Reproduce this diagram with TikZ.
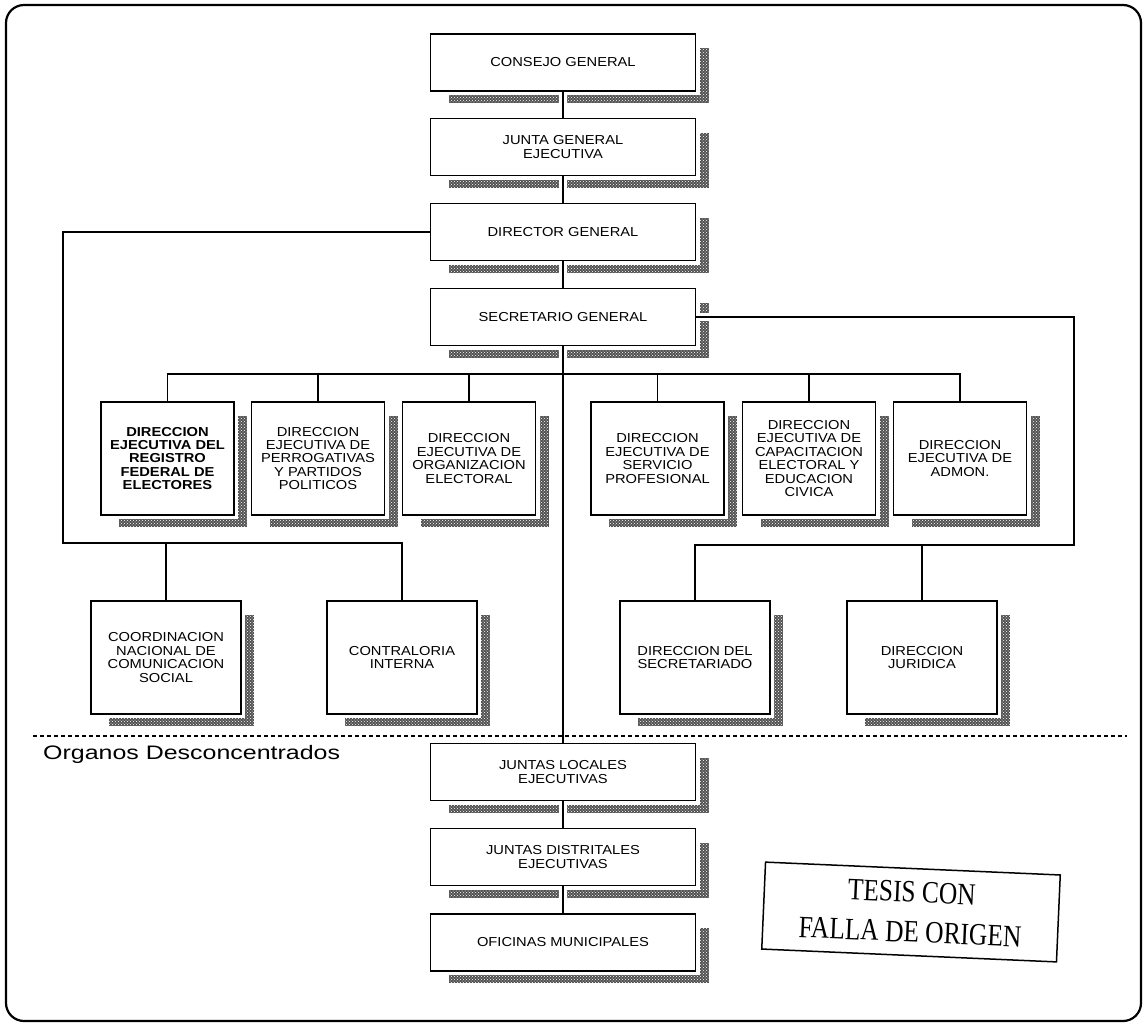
\documentclass[tikz,border=0pt]{standalone}
\usepackage{fontspec}
\setmainfont{Liberation Sans}
\newfontfamily\chartfont[FakeStretch=1.13]{Liberation Sans}
\newfontfamily\labelfont[FakeStretch=1.28]{Liberation Sans}
\newfontfamily\stampfont[FakeStretch=0.82]{Liberation Serif}
\usetikzlibrary{calc,patterns}

\tikzset{
  unit/.style={draw, line width=1.7pt, fill=white, align=center,
    inner sep=0pt, outer sep=0pt,
    font=\chartfont\fontsize{13}{13.4}\selectfont},
  wide/.style={unit, minimum width=265pt, minimum height=57pt},
  tall/.style={unit, minimum width=133pt, minimum height=113pt},
  lower/.style={unit, minimum width=150pt, minimum height=113pt},
  wire/.style={line width=1.6pt},
  shade/.style={fill=black!68, postaction={pattern=crosshatch dots, pattern color=white}},
  cut/.style={fill=white},
}

% grey drop shadow to the right of and below a box
\newcommand\boxshadow[1]{%
  \fill[shade] ($(#1.north east)+(4,14)$) rectangle ($(#1.south east)+(13,12)$);
  \fill[shade] ($(#1.south west)+(18,4)$) rectangle ($(#1.south east)+(13,12)$);}
% white notch in a bottom shadow where the connector passes
\newcommand\shadowgap[1]{%
  \fill[cut] ($(#1.south)+(-4,3)$) rectangle ($(#1.south)+(4,13)$);}

\begin{document}
\begin{tikzpicture}[x=1pt, y=-1pt]
\useasboundingbox (0,0) rectangle (1147,1026);

% outer frame
\draw[line width=2.2pt, rounded corners=18pt] (6,5) rectangle (1141,1021);

% central column
\node[wide] (cg) at (563,62.5) {CONSEJO GENERAL};
\node[wide] (jg) at (563,147) {JUNTA GENERAL\\EJECUTIVA};
\node[wide] (dg) at (563,232) {DIRECTOR GENERAL};
\node[wide] (sg) at (563,317) {SECRETARIO GENERAL};

% executive directions
\node[tall, line width=2.6pt, font=\chartfont\bfseries\fontsize{13}{13.4}\selectfont] (d1) at (167.5,458.5)
  {DIRECCION\\EJECUTIVA DEL\\REGISTRO\\FEDERAL DE\\ELECTORES};
\node[tall] (d2) at (318,458.5) {DIRECCION\\EJECUTIVA DE\\PERROGATIVAS\\Y PARTIDOS\\POLITICOS};
\node[tall] (d3) at (469,458.5) {DIRECCION\\EJECUTIVA DE\\ORGANIZACION\\ELECTORAL};
\node[tall] (d4) at (657.5,458.5) {DIRECCION\\EJECUTIVA DE\\SERVICIO\\PROFESIONAL};
\node[tall] (d5) at (809,458.5) {DIRECCION\\EJECUTIVA DE\\CAPACITACION\\ELECTORAL Y\\EDUCACION\\CIVICA};
\node[tall] (d6) at (960,458.5) {DIRECCION\\EJECUTIVA DE\\ADMON.};

% support units
\node[lower] (cn) at (166,657.5) {COORDINACION\\NACIONAL DE\\COMUNICACION\\SOCIAL};
\node[lower] (ci) at (402,657.5) {CONTRALORIA\\INTERNA};
\node[lower] (ds) at (695,657.5) {DIRECCION DEL\\SECRETARIADO};
\node[lower] (dj) at (922,657.5) {DIRECCION\\JURIDICA};

% decentralised bodies
\node[wide] (jl) at (563,772) {JUNTAS LOCALES\\EJECUTIVAS};
\node[wide] (jd) at (563,857) {JUNTAS DISTRITALES\\EJECUTIVAS};
\node[wide] (om) at (563,942.5) {OFICINAS MUNICIPALES};

% shadows
\foreach \n in {cg,jg,dg,sg,d1,d2,d3,d4,d5,d6,cn,ci,ds,dj,jl,jd,om} {\boxshadow{\n}}
\foreach \n in {cg,jg,dg,sg,jl,jd} {\shadowgap{\n}}
\fill[cut] ($(sg.east)+(3,-4)$) rectangle ($(sg.east)+(14,4)$);

% reference points of the connector runs
\coordinate (bus) at (0,374);
\coordinate (lcorner) at (63,232);
\coordinate (lbus) at (63,543);
\coordinate (rcorner) at (1074,545);

% vertical chain
\draw[wire] (cg.south) -- (jg.north);
\draw[wire] (jg.south) -- (dg.north);
\draw[wire] (dg.south) -- (sg.north);
\draw[wire] (sg.south) -- (jl.north);
\draw[wire] (jl.south) -- (jd.north);
\draw[wire] (jd.south) -- (om.north);

% bus to the executive directions
\draw[wire] (d1.north) -- (d1.north |- bus) -- (d6.north |- bus) -- (d6.north);
\foreach \n in {d2,d3,d4,d5} {\draw[wire] (\n.north) -- (\n.north |- bus);}

% director general branch
\draw[wire] (dg.west) -- (lcorner) -- (lbus) -- (ci.north |- lbus) -- (ci.north);
\draw[wire] (cn.north) -- (cn.north |- lbus);

% secretario general branch
\draw[wire] (sg.east) -| (rcorner) -| (ds.north);
\draw[wire] (dj.north) -- (dj.north |- rcorner);

% divider
\coordinate (divL) at (33,736);
\coordinate (divR) at (1127,736);
\draw[line width=1.2pt, dash pattern=on 4pt off 3pt] (divL) -- (divR);
\node[anchor=base west, inner sep=0pt, font=\labelfont\fontsize{19.5}{20}\selectfont] (od) at (43,759)
  {Organos Desconcentrados};

% stamp
\node[draw, line width=1.5pt, rotate=-2.5, minimum width=295pt, minimum height=87pt,
  align=center, inner sep=0pt, font=\stampfont\fontsize{31}{40}\selectfont] (st) at (911,912)
  {TESIS CON\\FALLA DE ORIGEN};
\end{tikzpicture}
\end{document}
